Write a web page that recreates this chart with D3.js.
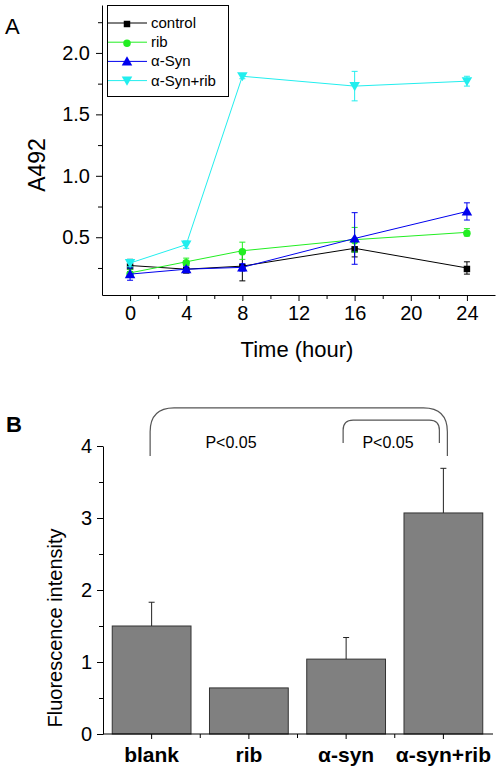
<!DOCTYPE html>
<html><head><meta charset="utf-8">
<script src="https://cdn.jsdelivr.net/npm/d3@7"></script>
<style>body{margin:0;background:#fff}svg{display:block;font-family:"Liberation Sans",Arial,sans-serif}</style>
</head><body><svg id="c" width="499" height="771"></svg>
<script>
// ---- Panel A data ----
const hours = [0, 4, 8, 16, 24];
const seriesNames = ["control", "rib", "α-Syn", "α-Syn+rib"];
const controlVals = [0.27, 0.24, 0.265, 0.41, 0.25];
const controlErr  = [0.05, 0.03, 0.12, 0.07, 0.05];
const ribVals     = [0.21, 0.30, 0.39, 0.48, 0.54];
const ribErr      = [0.03, 0.03, 0.07, 0.10, 0.03];
const synVals     = [0.20, 0.24, 0.255, 0.49, 0.71];
const synErr      = [0.05, 0.02, 0.03, 0.21, 0.07];
const synRibVals  = [0.29, 0.44, 1.81, 1.73, 1.77];
const synRibErr   = [0.03, 0.03, 0.02, 0.12, 0.04];
const xTicksA = [0, 4, 8, 12, 16, 20, 24];
const yTicksA = [0.5, 1.0, 1.5, 2.0];

// ---- Panel B data ----
const groups = ["blank", "rib", "α-syn", "α-syn+rib"];
const fluo    = [1.50, 0.64, 1.04, 3.07];
const fluoErr = [0.33, 0.00, 0.30, 0.62];
const yTicksB = [0, 1, 2, 3, 4];
const pLabel = "P<0.05";

const svg = d3.select("#c");
const FONT = '"Liberation Sans",Arial,sans-serif';

// ================= Panel A =================
const xA = d3.scaleLinear().domain([-2, 26]).range([102, 495]);
const yA = d3.scaleLinear().domain([0.03, 2.39]).range([295, 5]);
const gA = svg.append("g");

const xAxA = d3.axisBottom(xA).tickValues(d3.range(0, 25, 2)).tickSize(4).tickSizeOuter(0)
  .tickFormat(d => xTicksA.includes(d) ? d : "");
gA.append("g").attr("transform", "translate(0,295)").call(xAxA)
  .call(g => { g.selectAll("text").attr("font-size", 20).attr("dy", "0.78em").attr("y", 9).attr("font-family", FONT).attr("fill", "#000");
    g.selectAll(".tick line").attr("y2", d => xTicksA.includes(d) ? 6 : 4);
    g.select(".domain").attr("stroke", "#000"); });
const yAxA = d3.axisLeft(yA).tickValues([0.25, 0.5, 0.75, 1.0, 1.25, 1.5, 1.75, 2.0, 2.25]).tickSize(4).tickSizeOuter(0)
  .tickFormat(d => yTicksA.includes(d) ? d3.format(".1f")(d) : "");
gA.append("g").attr("transform", "translate(102,0)").call(yAxA)
  .call(g => { g.selectAll("text").attr("font-size", 20).attr("x", -12).attr("font-family", FONT).attr("fill", "#000");
    g.selectAll(".tick line").attr("x2", d => yTicksA.includes(d) ? -6 : -4);
    g.select(".domain").attr("stroke", "#000"); });

gA.append("text").attr("x", 5).attr("y", 34).attr("font-size", 22).text("A");
gA.append("text").attr("transform", "translate(45,165) rotate(-90)").attr("text-anchor", "middle")
  .attr("font-size", 23).text("A492");
gA.append("text").attr("x", 297).attr("y", 357).attr("text-anchor", "middle").attr("font-size", 22).text("Time (hour)");

const series = [
  {name: seriesNames[0], vals: controlVals, err: controlErr, color: "#000000", sym: d3.symbolSquare, size: 42, rot: 0},
  {name: seriesNames[1], vals: ribVals, err: ribErr, color: "#22ee22", sym: d3.symbolCircle, size: 44, rot: 0},
  {name: seriesNames[2], vals: synVals, err: synErr, color: "#0000ee", sym: d3.symbolTriangle, size: 48, rot: 0},
  {name: seriesNames[3], vals: synRibVals, err: synRibErr, color: "#22eeee", sym: d3.symbolTriangle, size: 48, rot: 180}
];
const line = d3.line().x((d, i) => xA(hours[i])).y(d => yA(d));
series.forEach(s => {
  const g = gA.append("g");
  g.append("path").attr("d", line(s.vals)).attr("fill", "none").attr("stroke", s.color).attr("stroke-width", 1);
  s.vals.forEach((v, i) => {
    const x = xA(hours[i]), y1 = yA(v + s.err[i]), y0 = yA(v - s.err[i]);
    g.append("line").attr("x1", x).attr("x2", x).attr("y1", y1).attr("y2", y0).attr("stroke", s.color);
    [y1, y0].forEach(yy => g.append("line").attr("x1", x - 3).attr("x2", x + 3).attr("y1", yy).attr("y2", yy).attr("stroke", s.color));
    g.append("path").attr("d", d3.symbol(s.sym, s.size)())
      .attr("transform", `translate(${x},${yA(v) + (s.rot ? -1 : 1)}) rotate(${s.rot})`).attr("fill", s.color);
  });
});

// legend
const lg = gA.append("g");
lg.append("rect").attr("x", 107.5).attr("y", 5.5).attr("width", 121).attr("height", 91)
  .attr("fill", "#fff").attr("stroke", "#000");
series.forEach((s, i) => {
  const yy = 23 + i * 19.2;
  lg.append("line").attr("x1", 108).attr("x2", 147).attr("y1", yy).attr("y2", yy).attr("stroke", s.color);
  lg.append("path").attr("d", d3.symbol(s.sym, s.size)())
    .attr("transform", `translate(127,${yy + (s.rot ? -1 : 1)}) rotate(${s.rot})`).attr("fill", s.color);
  lg.append("text").attr("x", 151).attr("y", yy + 5).attr("font-size", 15).text(s.name);
});

// ================= Panel B =================
const xB = d3.scaleBand().domain(groups).range([103, 492]).paddingInner(0.19).paddingOuter(0.095);
const yB = d3.scaleLinear().domain([0, 4]).range([734, 446]);
const gB = svg.append("g");

gB.selectAll("rect.bar").data(groups).join("rect").attr("class", "bar")
  .attr("x", d => xB(d)).attr("width", xB.bandwidth())
  .attr("y", (d, i) => yB(fluo[i])).attr("height", (d, i) => yB(0) - yB(fluo[i]))
  .attr("fill", "#808080").attr("stroke", "#333").attr("stroke-width", 1);

groups.forEach((d, i) => {
  if (fluoErr[i] <= 0) return;
  const x = xB(d) + xB.bandwidth() / 2;
  gB.append("line").attr("x1", x).attr("x2", x).attr("y1", yB(fluo[i])).attr("y2", yB(fluo[i] + fluoErr[i])).attr("stroke", "#222");
  gB.append("line").attr("x1", x - 3).attr("x2", x + 3).attr("y1", yB(fluo[i] + fluoErr[i])).attr("y2", yB(fluo[i] + fluoErr[i])).attr("stroke", "#222");
});

const xAxB = gB.append("g").attr("transform", "translate(0,734)");
xAxB.append("line").attr("x1", 103).attr("x2", 493).attr("y1", 0).attr("y2", 0).attr("stroke", "#000");
const step = xB.step();
groups.forEach((d, i) => {
  const c = xB(d) + xB.bandwidth() / 2;
  xAxB.append("line").attr("x1", c).attr("x2", c).attr("y1", 0).attr("y2", 5).attr("stroke", "#000");
  if (i > 0) {
    const b = c - step / 2;
    xAxB.append("line").attr("x1", b).attr("x2", b).attr("y1", 0).attr("y2", 4).attr("stroke", "#000");
  }
  xAxB.append("text").attr("x", c).attr("y", 28).attr("text-anchor", "middle").attr("font-size", 21)
    .attr("font-weight", "bold").text(d);
});

const yAxB = d3.axisLeft(yB).tickValues(d3.range(0, 4.01, 0.5)).tickSize(4).tickSizeOuter(0)
  .tickFormat(d => yTicksB.includes(d) ? d : "");
gB.append("g").attr("transform", "translate(103,0)").call(yAxB)
  .call(g => { g.selectAll("text").attr("font-size", 20).attr("x", -11).attr("font-family", FONT).attr("fill", "#000");
    g.selectAll(".tick line").attr("x2", d => yTicksB.includes(d) ? -6 : -4);
    g.select(".domain").attr("stroke", "#000"); });

gB.append("text").attr("x", 6).attr("y", 432).attr("font-size", 22).attr("font-weight", "bold").text("B");
gB.append("text").attr("transform", "translate(62,628) rotate(-90)").attr("text-anchor", "middle")
  .attr("font-size", 20).text("Fluorescence intensity");

function bracket(x0, x1, yBot, yTop, r) {
  const p = d3.path();
  p.moveTo(x0, yBot);
  p.lineTo(x0, yTop + r);
  p.quadraticCurveTo(x0, yTop, x0 + r, yTop);
  p.lineTo(x1 - r, yTop);
  p.quadraticCurveTo(x1, yTop, x1, yTop + r);
  p.lineTo(x1, yBot);
  return p.toString();
}
const cB = g => xB(g) + xB.bandwidth() / 2;
gB.append("path").attr("d", bracket(cB("blank") - 1.5, cB("α-syn+rib") + 4, yB(3.86), yB(4.53), 24))
  .attr("fill", "none").attr("stroke", "#555").attr("stroke-width", 1.2);
gB.append("path").attr("d", bracket(cB("α-syn") - 3, cB("α-syn+rib") - 4, yB(4.04), yB(4.36), 10))
  .attr("fill", "none").attr("stroke", "#555").attr("stroke-width", 1.2);
gB.append("text").attr("x", 231).attr("y", 448).attr("text-anchor", "middle").attr("font-size", 16).text(pLabel);
gB.append("text").attr("x", 388).attr("y", 448).attr("text-anchor", "middle").attr("font-size", 16).text(pLabel);
</script></body></html>
